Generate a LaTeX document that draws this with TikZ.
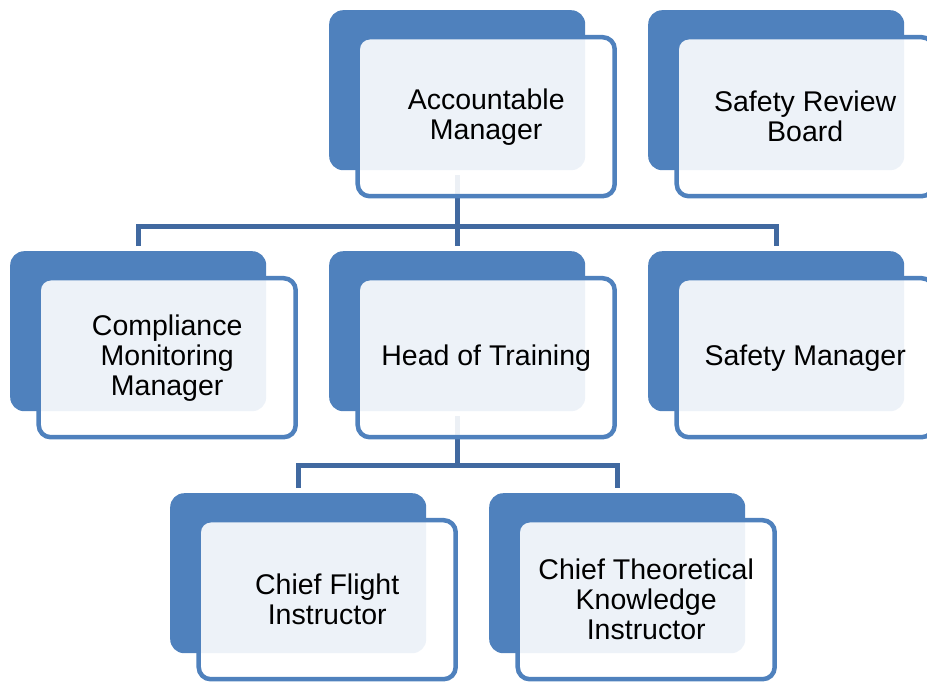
\documentclass[tikz,border=0pt]{standalone}
\usepackage{fontspec}
\setmainfont{Liberation Sans}
\usetikzlibrary{positioning}

\definecolor{boxblue}{HTML}{4F81BD}
\definecolor{linkblue}{HTML}{4169A0}

\begin{document}
\begin{tikzpicture}[x=1pt, y=-1pt,
    back/.style={fill=boxblue, rounded corners=14pt, minimum width=256pt,
      minimum height=160pt, anchor=north west, inner sep=0pt},
    card/.style={draw=boxblue, line width=4.5pt, fill=white, fill opacity=0.9,
      text opacity=1, rounded corners=12pt, minimum width=257pt,
      minimum height=159pt, align=center, inner sep=0pt,
      font=\fontsize{28.5}{30}\selectfont, xshift=29pt, yshift=-26.5pt},
    link/.style={draw=linkblue, line width=5pt}]
  \clip (0,0) rectangle (927,683);

  % back plates
  \node[back] (am-back)   at (329,10)  {};
  \node[back] (srb-back)  at (648,10)  {};
  \node[back] (cmm-back)  at (10,251)  {};
  \node[back] (hot-back)  at (329,251) {};
  \node[back] (sm-back)   at (648,251) {};
  \node[back] (cfi-back)  at (170,493) {};
  \node[back] (ctki-back) at (489,493) {};

  % connectors
  \draw[link] ([yshift=-5pt]am-back.south) -- ([yshift=5pt]hot-back.north);
  \draw[link] ([yshift=5pt]cmm-back.north) -- ++(0,-20) -| ([yshift=5pt]sm-back.north);
  \coordinate (bus2) at (0,465);
  \draw[link] ([yshift=-5pt]hot-back.south) -- (hot-back.south |- bus2);
  \draw[link] ([yshift=5pt]cfi-back.north) -- ++(0,-23) -| ([yshift=5pt]ctki-back.north);

  % cards
  \node[card] (am)   at (am-back)   {Accountable\\Manager};
  \node[card] (srb)  at (srb-back)  {Safety Review\\Board};
  \node[card] (cmm)  at (cmm-back)  {Compliance\\Monitoring\\Manager};
  \node[card] (hot)  at (hot-back)  {Head of Training};
  \node[card] (sm)   at (sm-back)   {Safety Manager};
  \node[card] (cfi)  at (cfi-back)  {Chief Flight\\Instructor};
  \node[card] (ctki) at (ctki-back) {Chief Theoretical\\Knowledge\\Instructor};
\end{tikzpicture}
\end{document}
